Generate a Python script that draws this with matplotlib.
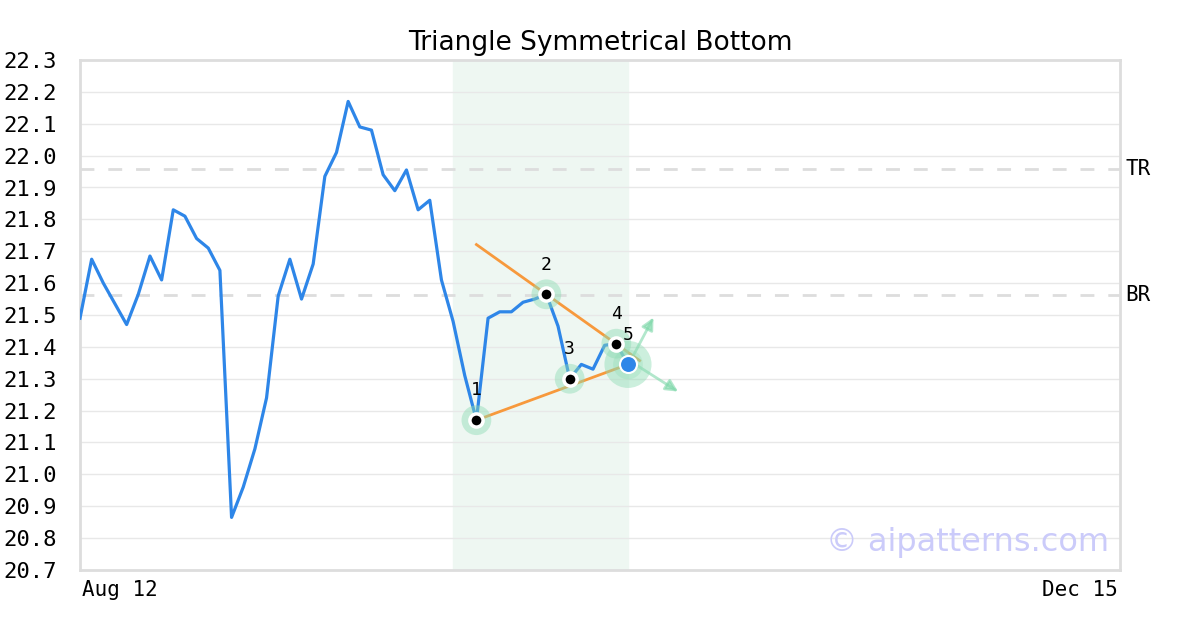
import matplotlib
matplotlib.use('Agg')
import matplotlib.pyplot as plt

# closing prices, one per trading day from Aug 12
price = [21.49, 21.675, 21.60, 21.535, 21.47, 21.565, 21.685, 21.61, 21.83, 21.81,
         21.74, 21.71, 21.64, 20.865, 20.96, 21.08, 21.24, 21.56, 21.675, 21.55,
         21.66, 21.935, 22.01, 22.17, 22.09, 22.08, 21.94, 21.89, 21.955, 21.83,
         21.86, 21.61, 21.48, 21.31, 21.17, 21.49, 21.51, 21.51, 21.54, 21.55,
         21.565, 21.465, 21.30, 21.345, 21.33, 21.405, 21.41, 21.345]
n_days = 89.2          # trading days between Aug 12 and Dec 15
x_labels = ['Aug 12', 'Dec 15']

pivot_idx = [34, 40, 42, 46, 47]
pivot_lbl = ['1', '2', '3', '4', '5']
upper_x = [34, 48]
upper_y = [21.721, 21.357]
lower_x = [34, 47]
lower_y = [21.17, 21.345]
arrow_up = (49.3, 21.50)
arrow_dn = (51.5, 21.255)
pattern_span = (32, 47)
TR = 21.958
BR = 21.563

mono = 'DejaVu Sans Mono'
fig = plt.figure(figsize=(12, 6.3), dpi=100)
ax = fig.add_axes([80/1200, 60/630, 1040/1200, 510/630])

ax.axvspan(*pattern_span, color='#eef7f2', zorder=0)
for v in [20.8 + 0.1*i for i in range(15)]:
    ax.axhline(v, color='#e8e8e8', lw=1, zorder=1)
for v in (TR, BR):
    ax.axhline(v, color='#dddddd', lw=2, ls=(0, (5, 5)), zorder=1)

xs = list(range(len(price)))
ax.plot(xs, price, color='#2e86e8', lw=2.3, zorder=3)
ax.plot(upper_x, upper_y, color='#f7993c', lw=2, zorder=4)
ax.plot(lower_x, lower_y, color='#f7993c', lw=2, zorder=4)

# breakout arrows
x5, y5 = pivot_idx[-1], price[pivot_idx[-1]]
for tx, ty in (arrow_up, arrow_dn):
    ax.annotate('', xy=(tx, ty), xytext=(x5 + 0.2, y5 + 0.01),
                arrowprops=dict(arrowstyle='-|>', color='#7fd8aa', alpha=0.6,
                                lw=2, mutation_scale=18), zorder=5)

for i, (k, lb) in enumerate(zip(pivot_idx, pivot_lbl)):
    big = i == len(pivot_idx) - 1
    ax.scatter(k, price[k], s=1150 if big else 460, color='#8edcb4', alpha=0.45,
               edgecolors='none', zorder=5)
    if big:
        ax.scatter(k, price[k], s=460, color='#8edcb4', alpha=0.3, edgecolors='none', zorder=5)
        ax.scatter(k, price[k], s=150, color='#2e86e8', edgecolors='white', lw=1.5, zorder=6)
    else:
        ax.scatter(k, price[k], s=90, color='black', edgecolors='white', lw=2.5, zorder=6)
    ax.text(k, price[k] + 0.065, lb, ha='center', va='bottom', fontsize=13,
            family=mono, zorder=7)

ax.set_xlim(0, n_days)
ax.set_ylim(20.7, 22.3)
ax.set_yticks([20.7 + 0.1*i for i in range(17)])
ax.set_yticklabels(['%.1f' % (20.7 + 0.1*i) for i in range(17)], family=mono, fontsize=16)
ax.tick_params(axis='y', length=0, pad=16.5)
ax.set_xticks([])
for s in ax.spines.values():
    s.set_color('#dddddd')
    s.set_linewidth(2)

ax.text(0.002, -0.02, x_labels[0], transform=ax.transAxes, ha='left', va='top',
        family=mono, fontsize=15)
ax.text(0.998, -0.02, x_labels[1], transform=ax.transAxes, ha='right', va='top',
        family=mono, fontsize=15)
ax.text(1.005, TR, 'TR', transform=ax.get_yaxis_transform(), ha='left', va='center',
        family=mono, fontsize=15)
ax.text(1.005, BR, 'BR', transform=ax.get_yaxis_transform(), ha='left', va='center',
        family=mono, fontsize=15)
ax.text(0.99, 0.053, '© aipatterns.com', transform=ax.transAxes, ha='right',
        va='center', color='#cbcbfa', fontsize=23, zorder=8)
ax.set_title('Triangle Symmetrical Bottom', fontsize=19, pad=7)

fig.savefig('out.png', dpi=100)
